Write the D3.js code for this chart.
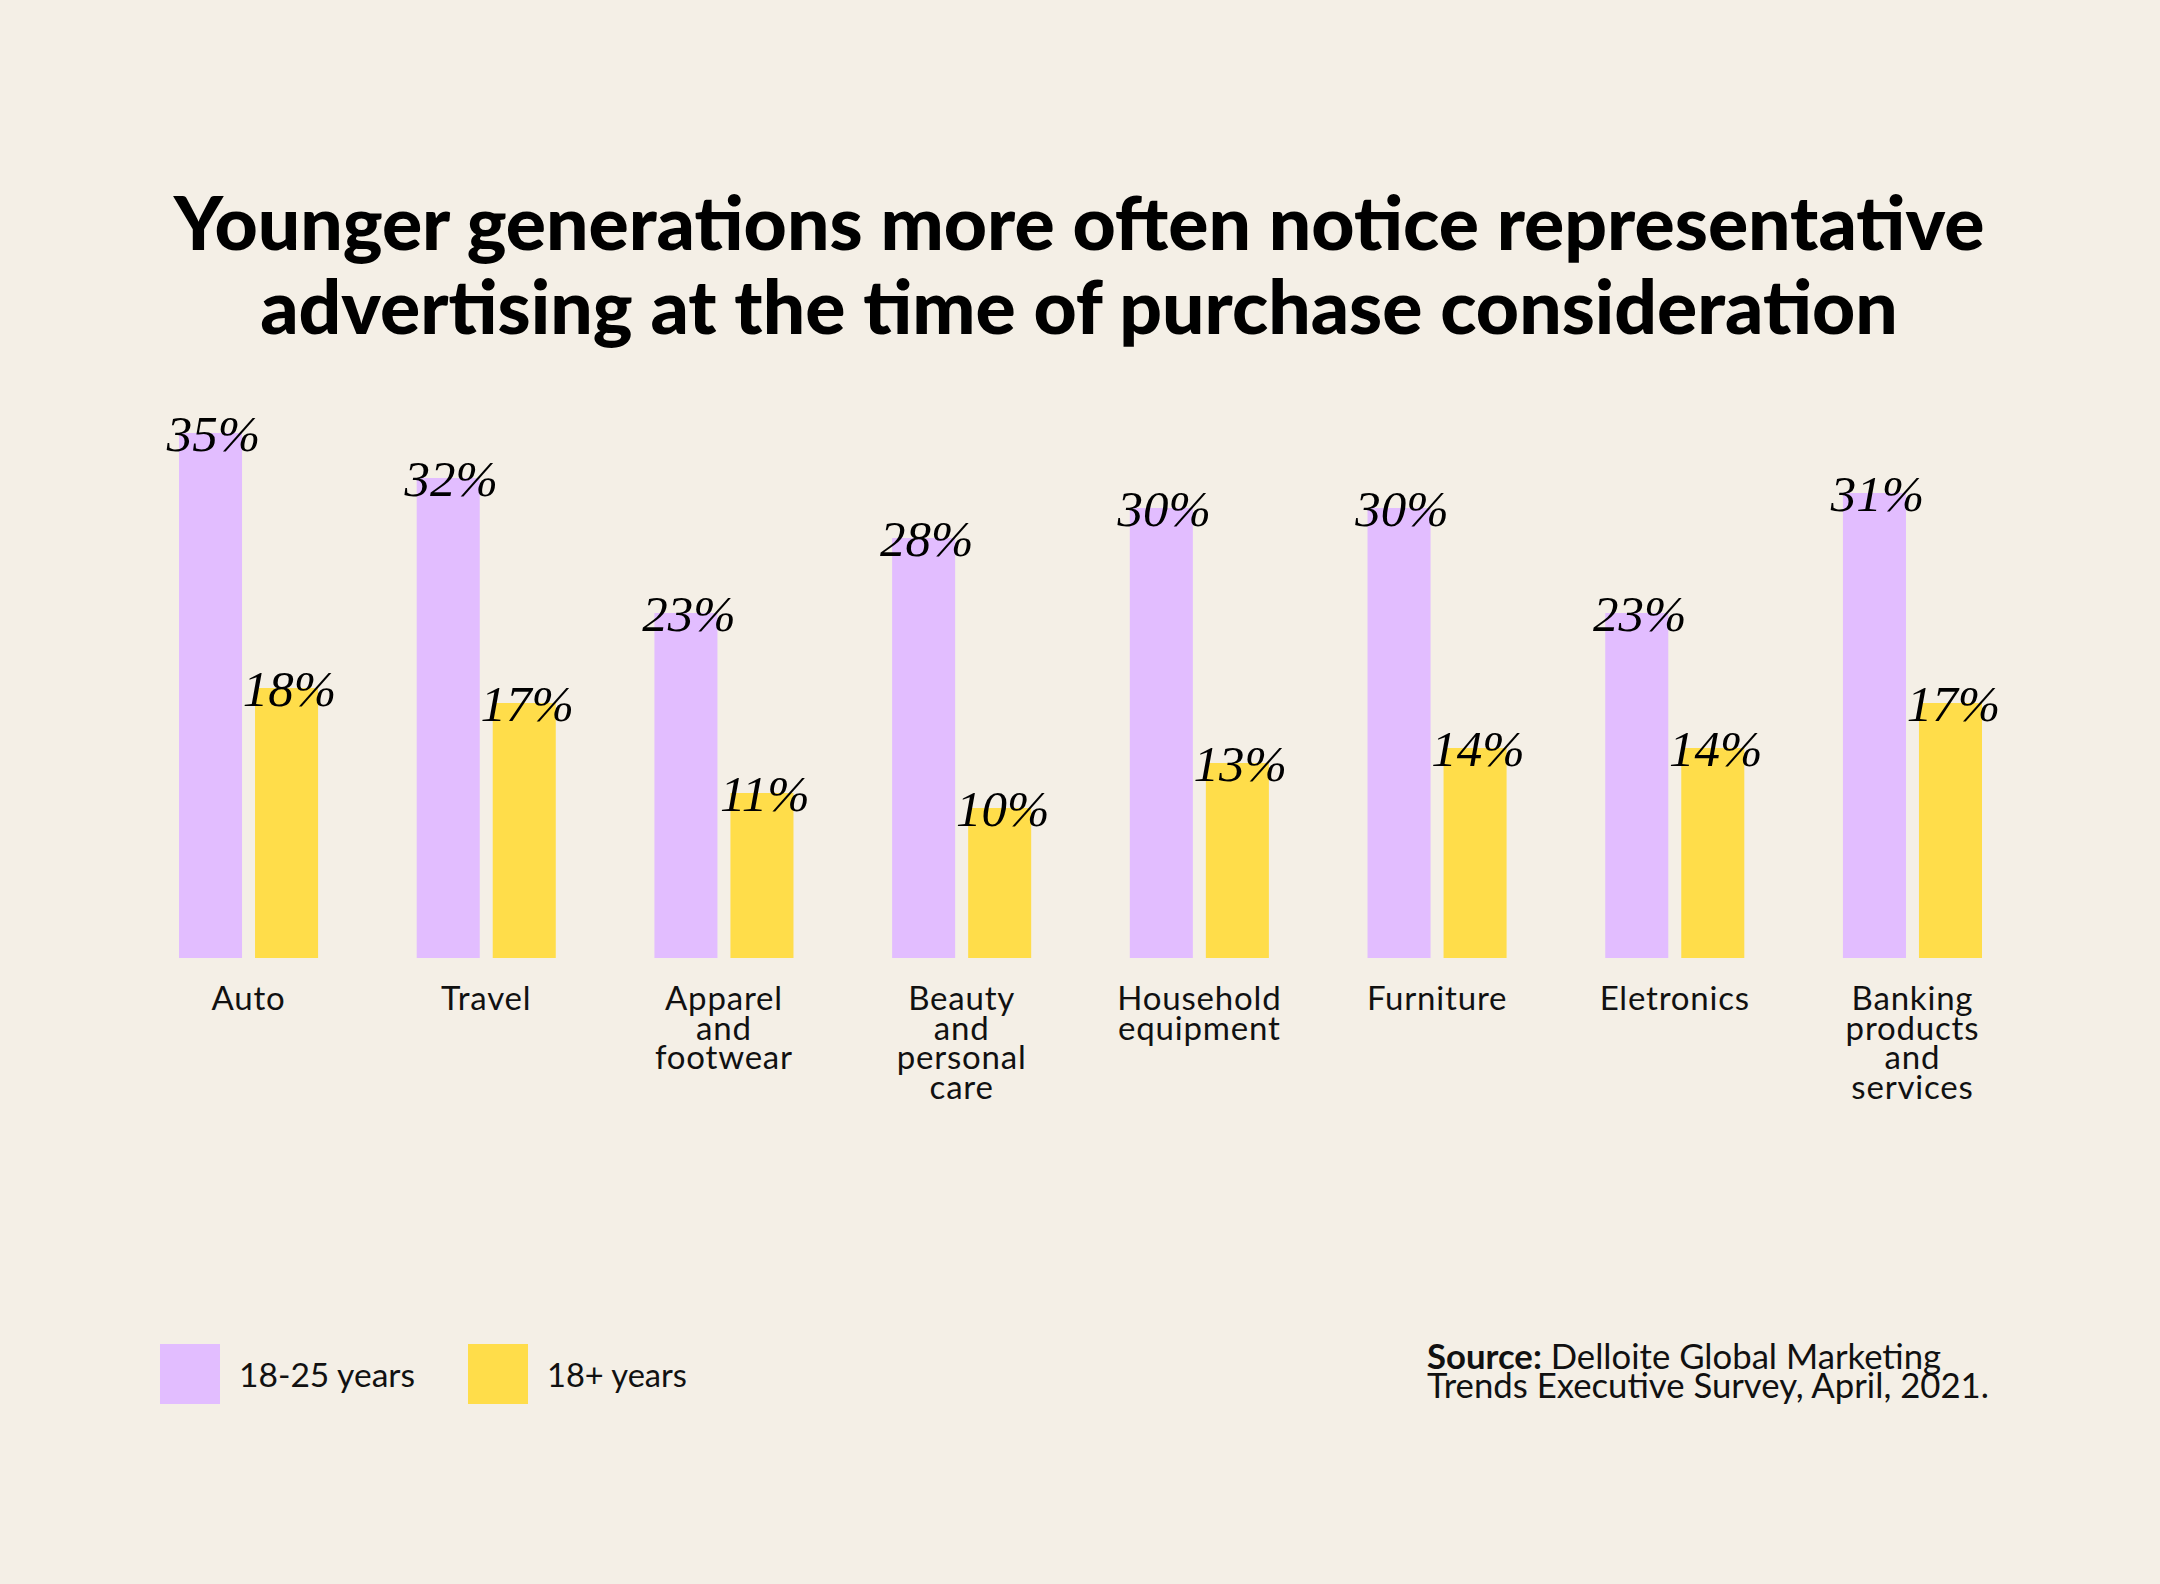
<!DOCTYPE html>
<html>
<head>
<meta charset="utf-8">
<script src="https://cdn.jsdelivr.net/npm/d3@7"></script>
<style>
  html, body { margin: 0; padding: 0; background: #F4EFE6; }
  svg { display: block; }
</style>
</head>
<body>
<svg id="chart" width="2160" height="1584"></svg>
<script>
const categories = [
  ["Auto"],
  ["Travel"],
  ["Apparel", "and", "footwear"],
  ["Beauty", "and", "personal", "care"],
  ["Household", "equipment"],
  ["Furniture"],
  ["Eletronics"],
  ["Banking", "products", "and", "services"]
];
const seriesNames = ["18-25 years", "18+ years"];
const young = [35, 32, 23, 28, 30, 30, 23, 31];
const adult = [18, 17, 11, 10, 13, 14, 14, 17];
const colors = ["#E2BDFF", "#FFDD4A"];
const titleLines = [
  "Younger generations more often notice representative",
  "advertising at the time of purchase consideration"
];

const W = 2160, H = 1584;
const svg = d3.select("#chart");
svg.append("rect").attr("width", W).attr("height", H).attr("fill", "#F4EFE6");

const catKeys = categories.map(c => c.join(" "));
const x0 = d3.scaleBand().domain(catKeys).range([179, 1982]).paddingInner(0.415).paddingOuter(0);
const x1 = d3.scaleBand().domain(seriesNames).range([0, x0.bandwidth()]).paddingInner(0.171).paddingOuter(0);
const y = d3.scaleLinear().domain([0, 35]).range([958, 433]);

const sans = "Lato, 'Open Sans', 'DejaVu Sans', sans-serif";
const serif = "'Liberation Serif', 'DejaVu Serif', serif";

function fitWidth(sel, target) {
  sel.each(function () {
    const node = this;
    const fs = parseFloat(node.getAttribute("font-size"));
    const w = node.getComputedTextLength();
    if (w > 0) node.setAttribute("font-size", (fs * target / w).toFixed(2));
  });
}

// Title
const title = svg.append("g");
titleLines.forEach((t, i) => {
  const tx = title.append("text")
    .attr("x", 1079).attr("y", [250, 334][i])
    .attr("text-anchor", "middle")
    .attr("font-family", sans).attr("font-weight", 900)
    .attr("font-size", 72).attr("fill", "#000")
    .text(t);
  fitWidth(tx, [1811, 1638][i]);
});

// Bars
const data = catKeys.map((k, i) => ({ key: k, values: [young[i], adult[i]] }));
const groups = svg.append("g").selectAll("g").data(data).join("g")
  .attr("transform", d => `translate(${x0(d.key)},0)`);

groups.selectAll("rect").data(d => d.values.map((v, j) => ({ s: seriesNames[j], v, j })))
  .join("rect")
  .attr("x", d => x1(d.s))
  .attr("width", x1.bandwidth())
  .attr("y", d => y(d.v))
  .attr("height", d => y(0) - y(d.v))
  .attr("fill", d => colors[d.j]);

groups.selectAll("text.val").data(d => d.values.map((v, j) => ({ s: seriesNames[j], v, j })))
  .join("text").attr("class", "val")
  .attr("x", d => x1(d.s) + x1.bandwidth() / 2 + 3)
  .attr("y", d => y(d.v) + 18)
  .attr("text-anchor", "middle")
  .attr("font-family", serif).attr("font-style", "italic")
  .attr("font-size", 51).attr("fill", "#000")
  .text(d => d.v + "%");

// Category labels
groups.each(function (d, i) {
  const g = d3.select(this);
  const t = g.append("text")
    .attr("x", x0.bandwidth() / 2)
    .attr("text-anchor", "middle")
    .attr("font-family", sans).attr("font-weight", 400)
    .attr("font-size", 33).attr("letter-spacing", 0.8)
    .attr("fill", "#111");
  categories[i].forEach((line, li) => {
    t.append("tspan").attr("x", x0.bandwidth() / 2).attr("y", 1010 + li * 29.5).text(line);
  });
});

// Legend
const legend = svg.append("g");
const legX = [160, 468];
seriesNames.forEach((s, i) => {
  legend.append("rect").attr("x", legX[i]).attr("y", 1344).attr("width", 60).attr("height", 60).attr("fill", colors[i]);
  const tx = legend.append("text").attr("x", legX[i] + 79).attr("y", 1387)
    .attr("font-family", sans).attr("font-size", 34).attr("fill", "#111").text(s);
  fitWidth(tx, [176, 140][i]);
});

// Source
const src = svg.append("g").attr("font-family", sans).attr("fill", "#111");
const s1 = src.append("text").attr("x", 1427).attr("y", 1369).attr("font-size", 32);
s1.append("tspan").attr("font-weight", 700).text("Source:");
s1.append("tspan").text(" Delloite Global Marketing");
const s2 = src.append("text").attr("x", 1427).attr("y", 1398).attr("font-size", 32)
  .text("Trends Executive Survey, April, 2021.");
fitWidth(s2, 562);
s1.attr("font-size", s2.attr("font-size"));
</script>
</body>
</html>
